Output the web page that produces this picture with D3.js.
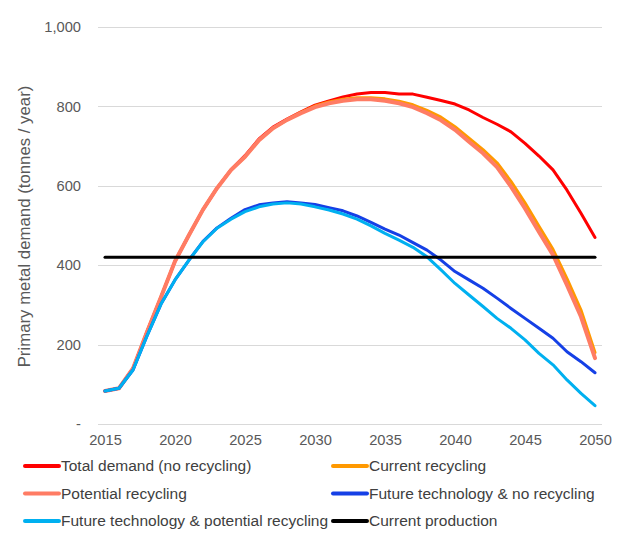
<!DOCTYPE html>
<html>
<head>
<meta charset="utf-8">
<script src="https://cdn.jsdelivr.net/npm/d3@7"></script>
<style>
  body { margin: 0; background: #fff; }
  svg { display: block; font-family: Arial, "Liberation Sans", sans-serif; }
</style>
</head>
<body>
<div id="chart"></div>
<script>
let width = 621;
let height = 543;

let years = d3.range(2015, 2051);
let xTicks = [2015, 2020, 2025, 2030, 2035, 2040, 2045, 2050];
let yTicks = [0, 200, 400, 600, 800, 1000];

let totalDemand = [83, 90, 140, 232, 320, 410, 476, 540, 594, 640, 676, 718, 748, 768, 786, 803,
    814, 824, 831, 835, 835, 831, 831, 823, 815, 806, 791, 772, 755, 736, 707, 675, 640, 589, 531, 470];
let currentRecycling = [83, 90, 140, 232, 320, 410, 476, 540, 594, 640, 673, 715, 745, 766, 785, 801,
    811, 818, 822, 822, 819, 813, 804, 790, 773, 749, 720, 691, 658, 611, 557, 498, 440, 366, 287, 180];
let potentialRecycling = [83, 90, 140, 232, 320, 410, 476, 540, 594, 640, 673, 715, 745, 766, 783, 798,
    808, 814, 818, 818, 814, 808, 798, 783, 765, 741, 711, 682, 647, 598, 543, 484, 426, 350, 270, 166];
let futureNoRecycling = [83, 90, 136, 222, 302, 363, 413, 460, 494, 518, 540, 552, 557, 560, 557, 553,
    545, 537, 524, 508, 491, 476, 457, 438, 413, 384, 363, 342, 317, 291, 266, 241, 216, 182, 157, 129];
let futurePotentialRecycling = [83, 90, 136, 222, 302, 363, 413, 459, 493, 516, 535, 547, 554, 557, 554, 547,
    539, 529, 516, 499, 480, 463, 445, 421, 388, 354, 325, 296, 266, 241, 212, 178, 149, 111, 77, 46];
let currentProduction = years.map(() => 420);

let series = [
    { name: 'Total demand (no recycling)', values: totalDemand, color: '#ff0000', w: 3 },
    { name: 'Current recycling', values: currentRecycling, color: '#ff9900', w: 3 },
    { name: 'Potential recycling', values: potentialRecycling, color: '#ff7c64', w: 4 },
    { name: 'Future technology & no recycling', values: futureNoRecycling, color: '#1540e6', w: 3 },
    { name: 'Future technology & potential recycling', values: futurePotentialRecycling, color: '#00b0f0', w: 3 },
    { name: 'Current production', values: currentProduction, color: '#000000', w: 3 }
];

let margin = { left: 98, right: 19, top: 27, bottom: 119 };

let svg = d3.select('#chart')
    .append('svg')
    .attr('width', width)
    .attr('height', height);

let xScale = d3.scalePoint()
    .domain(years)
    .range([margin.left, width - margin.right])
    .padding(0.5);

let yScale = d3.scaleLinear()
    .domain([0, 1000])
    .range([height - margin.bottom, margin.top]);

// gridlines
svg.append('g')
    .selectAll('line')
    .data(yTicks)
    .enter()
    .append('line')
    .attr('x1', margin.left)
    .attr('x2', width - margin.right)
    .attr('y1', d => Math.round(yScale(d)) + 0.5)
    .attr('y2', d => Math.round(yScale(d)) + 0.5)
    .attr('stroke', '#d9d9d9')
    .attr('stroke-width', 1);

// y axis labels
let yAxis = d3.axisLeft(yScale)
    .tickValues(yTicks)
    .tickSize(0)
    .tickPadding(0)
    .tickFormat(d => d === 0 ? '-' : d3.format(',')(d));

svg.append('g')
    .attr('transform', 'translate(' + (margin.left - 17) + ',0)')
    .call(yAxis)
    .call(g => g.select('.domain').remove())
    .selectAll('text')
    .attr('font-size', '14.7px')
    .attr('font-family', 'Arial, "Liberation Sans", sans-serif')
    .attr('fill', '#595959');

// x axis labels
let xAxis = d3.axisBottom(xScale)
    .tickValues(xTicks)
    .tickSize(0)
    .tickPadding(0);

svg.append('g')
    .attr('transform', 'translate(0,' + (height - margin.bottom + 11) + ')')
    .call(xAxis)
    .call(g => g.select('.domain').remove())
    .selectAll('text')
    .attr('font-size', '14.7px')
    .attr('font-family', 'Arial, "Liberation Sans", sans-serif')
    .attr('fill', '#595959');

// y axis title
svg.append('text')
    .attr('transform', 'translate(30,' + ((margin.top + height - margin.bottom) / 2 + 1) + ') rotate(-90)')
    .attr('text-anchor', 'middle')
    .attr('font-size', '16.8px')
    .attr('fill', '#595959')
    .text('Primary metal demand (tonnes / year)');

let line = d3.line()
    .x((d, i) => xScale(years[i]))
    .y(d => yScale(d));

svg.append('g')
    .selectAll('path')
    .data(series)
    .enter()
    .append('path')
    .attr('d', d => line(d.values))
    .attr('fill', 'none')
    .attr('stroke', d => d.color)
    .attr('stroke-width', d => d.w)
    .attr('stroke-linejoin', 'round')
    .attr('stroke-linecap', 'round');

// legend
let legend = svg.append('g')
    .selectAll('g')
    .data(series)
    .enter()
    .append('g')
    .attr('transform', (d, i) => 'translate(' + (i % 2 === 0 ? 25 : 333) + ',' + (466 + Math.floor(i / 2) * 27.5) + ')');

legend.append('line')
    .attr('x1', 0)
    .attr('x2', 34)
    .attr('stroke', d => d.color)
    .attr('stroke-width', 4)
    .attr('stroke-linecap', 'round');

legend.append('text')
    .attr('x', 36)
    .attr('dy', '0.35em')
    .attr('font-size', '15.5px')
    .attr('fill', '#404040')
    .text(d => d.name);
</script>
</body>
</html>
